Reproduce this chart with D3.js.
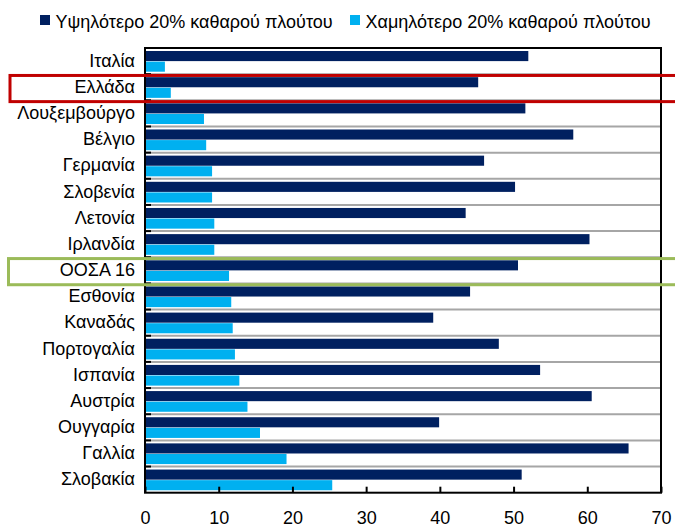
<!DOCTYPE html>
<html lang="el">
<head>
<meta charset="UTF-8">
<title>Πλούτος ανά χώρα</title>
<style>
  body { margin: 0; background: #fff; }
  text { font-family: "Liberation Sans", Arial, sans-serif; fill: #000; }
</style>
</head>
<body>
<script src="https://d3js.org/d3.v7.min.js"></script>
<div id="chart"></div>
<script>
// categories (top to bottom)
const countries = ["Ιταλία", "Ελλάδα", "Λουξεμβούργο", "Βέλγιο", "Γερμανία", "Σλοβενία",
  "Λετονία", "Ιρλανδία", "ΟΟΣΑ 16", "Εσθονία", "Καναδάς", "Πορτογαλία", "Ισπανία",
  "Αυστρία", "Ουγγαρία", "Γαλλία", "Σλοβακία"];

// top 20% of net wealth
const top20 = [52.0, 45.2, 51.6, 58.1, 46.0, 50.2, 43.5, 60.3, 50.6, 44.1, 39.1, 48.0,
  53.6, 60.6, 39.9, 65.6, 51.1];

// bottom 20% of net wealth
const bottom20 = [2.7, 3.5, 8.0, 8.3, 9.1, 9.1, 9.4, 9.4, 11.4, 11.7, 11.9, 12.2,
  12.8, 13.9, 15.6, 19.2, 25.4];

const xTicks = [0, 10, 20, 30, 40, 50, 60, 70];
const seriesNames = ["Υψηλότερο 20% καθαρού πλούτου", "Χαμηλότερο 20% καθαρού πλούτου"];
const colors = ["#002060", "#00b0f0"];

const width = 675, height = 528;
const plotL = 145, plotR = 661, plotT = 48, plotB = 492.7;

const svg = d3.select("#chart").append("svg")
  .attr("width", width)
  .attr("height", height);

const x = d3.scaleLinear().domain([0, 70]).range([plotL, plotR]);
const y = d3.scaleBand().domain(countries).range([plotT, plotB]);
const bw = y.bandwidth();
const barH = bw * 0.386;

// gridlines between categories
svg.append("g")
  .selectAll("line")
  .data(countries.slice(1))
  .join("line")
  .attr("x1", plotL).attr("x2", plotR)
  .attr("y1", d => y(d)).attr("y2", d => y(d))
  .attr("stroke", "#a6a6a6")
  .attr("stroke-width", 2);

// bars
svg.append("g")
  .selectAll("rect")
  .data(countries)
  .join("rect")
  .attr("x", x(0))
  .attr("y", d => y(d) + bw * 0.115)
  .attr("width", (d, i) => x(top20[i]) - x(0))
  .attr("height", barH)
  .attr("fill", colors[0]);

svg.append("g")
  .selectAll("rect")
  .data(countries)
  .join("rect")
  .attr("x", x(0))
  .attr("y", d => y(d) + bw * 0.115 + barH + 0.5)
  .attr("width", (d, i) => x(bottom20[i]) - x(0))
  .attr("height", barH)
  .attr("fill", colors[1]);

// plot frame
svg.append("rect")
  .attr("x", plotL).attr("y", plotT)
  .attr("width", plotR - plotL).attr("height", plotB - plotT)
  .attr("fill", "none")
  .attr("stroke", "#000")
  .attr("stroke-width", 2);

// left ticks on category boundaries
svg.append("g")
  .selectAll("line")
  .data(countries.slice(1))
  .join("line")
  .attr("x1", plotL).attr("x2", plotL + 6)
  .attr("y1", d => y(d)).attr("y2", d => y(d))
  .attr("stroke", "#000")
  .attr("stroke-width", 2);

// category labels
const yAxis = svg.append("g")
  .attr("transform", `translate(${plotL},0)`)
  .call(d3.axisLeft(y).tickSize(0).tickPadding(10));
yAxis.select(".domain").remove();
yAxis.selectAll("text")
  .attr("font-size", 18)
  .attr("font-family", null);

// bottom axis
const xAxis = svg.append("g")
  .attr("transform", `translate(0,${plotB})`)
  .call(d3.axisBottom(x).tickValues(xTicks).tickSize(-6).tickPadding(19));
xAxis.select(".domain").remove();
xAxis.selectAll("line").attr("stroke", "#000").attr("stroke-width", 2);
xAxis.selectAll("text")
  .attr("font-size", 18)
  .attr("font-family", null);

// highlight boxes
const highlights = [{name: "Ελλάδα", color: "#c00000", x0: 10},
                    {name: "ΟΟΣΑ 16", color: "#9bbb59", x0: 8.5}];
svg.append("g")
  .selectAll("rect")
  .data(highlights)
  .join("rect")
  .attr("x", d => d.x0)
  .attr("y", d => y(d.name) + 1.3)
  .attr("width", 700)
  .attr("height", bw)
  .attr("fill", "none")
  .attr("stroke", d => d.color)
  .attr("stroke-width", 3);

// legend
const legendX = [40, 350];
const legend = svg.append("g")
  .selectAll("g")
  .data(seriesNames)
  .join("g")
  .attr("transform", (d, i) => `translate(${legendX[i]},15)`);
legend.append("rect")
  .attr("width", 10).attr("height", 10)
  .attr("fill", (d, i) => colors[i]);
legend.append("text")
  .attr("x", 15.5).attr("y", 13)
  .attr("font-size", 18)
  .text(d => d);
</script>
</body>
</html>
